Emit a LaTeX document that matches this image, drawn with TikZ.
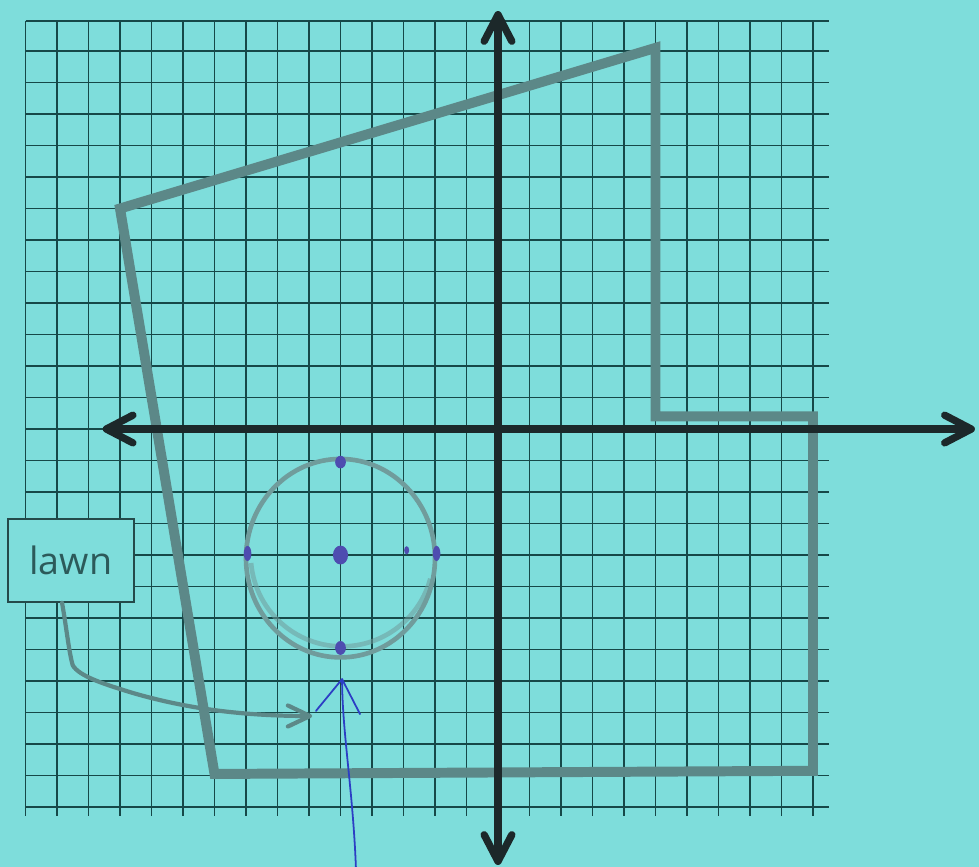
\documentclass[tikz,border=0pt]{standalone}
\usepackage{fontspec}
\setsansfont{Open Sans}
\usetikzlibrary{arrows.meta,calc}
\definecolor{paper}{RGB}{126,221,219}
\definecolor{gridc}{RGB}{22,72,72}
\definecolor{axisc}{RGB}{28,40,42}
\definecolor{polyc}{RGB}{92,136,136}
\definecolor{circc}{RGB}{112,156,156}
\definecolor{boxc}{RGB}{36,74,74}
\definecolor{textc}{RGB}{44,90,90}
\definecolor{penblue}{RGB}{44,62,196}
\definecolor{dotblue}{RGB}{78,76,176}
\begin{document}
\begin{tikzpicture}[x=0.5cm,y=0.5cm,
  gridline/.style={draw=gridc, line width=0.85pt},
  plotline/.style={draw=polyc, line width=4.5pt, line join=miter},
  axisline/.style={draw=axisc, line width=3.3pt,
    {Straight Barb[length=12pt,width=12.5pt,line cap=round,line join=round]}-{Straight Barb[length=12pt,width=12.5pt,line cap=round,line join=round]}},
  ringline/.style={draw=circc, line width=2.1pt},
  labelbox/.style={draw=boxc, fill=paper, line width=0.9pt, minimum width=2cm, minimum height=1.315cm,
    inner sep=0pt, font=\sffamily\fontsize{17}{20}\selectfont, text=textc},
  lawnarrow/.style={draw=polyc, line width=1.9pt, line cap=round,
    -{Straight Barb[length=10pt,width=9.5pt,line cap=round,line join=round]}},
  penline/.style={draw=penblue, line width=0.8pt, line cap=round, line join=round},
  pendot/.style={fill=dotblue}
]
% paper and frame
\fill[paper] (-15.81,-13.90) rectangle (15.27,13.62);
\useasboundingbox (-15.81,-13.90) rectangle (15.27,13.62);
% grid
\foreach \x in {-15,...,10} \draw[gridline] (\x,12.95) -- (\x,-12.3);
\foreach \y in {-12,...,12} \draw[gridline] (-15,\y) -- (10.5,\y);
\draw[gridline] (-15,12.95) -- (10.5,12.95);
% region outline
\coordinate (pA) at (-12,7);
\coordinate (pB) at (5,12.1);
\coordinate (pC) at (5,0.4);
\coordinate (pD) at (10,0.4);
\coordinate (pE) at (10,-10.85);
\coordinate (pF) at (-9,-10.95);
\draw[plotline] (pA) -- (pB) -- (pC) -- (pD) -- (pE) -- (pF) -- cycle;
% circle
\coordinate (cc) at (-5,-4.1);
\draw[ringline] (cc) ellipse [x radius=3.0, y radius=3.15];
\draw[ringline, opacity=0.55] (-4.95,-4.0) ++(185:2.9) arc[start angle=185, end angle=345, radius=2.9];
% dots
\fill[pendot] (-5,-4) ellipse [x radius=0.24, y radius=0.3];
\fill[pendot] (-5,-1.05) ellipse [x radius=0.17, y radius=0.2];
\fill[pendot] (-5,-6.95) ellipse [x radius=0.17, y radius=0.22];
\fill[pendot] (-7.95,-3.95) ellipse [x radius=0.12, y radius=0.24];
\fill[pendot] (-1.95,-3.95) ellipse [x radius=0.12, y radius=0.24];
\fill[pendot] (-2.9,-3.85) ellipse [x radius=0.08, y radius=0.13];
% axes
\coordinate (xl) at (-12.55,0);
\coordinate (xr) at (15.14,0);
\coordinate (yt) at (0,13.27);
\coordinate (yb) at (0,-13.84);
\draw[axisline] (xl) -- (xr);
\draw[axisline] (yb) -- (yt);
% lawn label
\node[labelbox] (lawn) at (-13.56,-4.17) {lawn};
\coordinate (lawnstart) at ($(lawn.south)+(-0.28,0)$);
\coordinate (lawntip) at (-5.9,-9.11);
\draw[lawnarrow] (lawnstart) .. controls (-13.7,-6.3) and (-13.62,-7.1) .. (-13.5,-7.5)
  .. controls (-13.3,-7.85) and (-12.5,-8.1) .. (-11.59,-8.38)
  .. controls (-9.8,-8.9) and (-8,-9.11) .. (lawntip);
% blue pen arrow
\coordinate (bstart) at (-4.51,-13.95);
\coordinate (btip) at (-4.95,-7.94);
\coordinate (barmL) at (-5.78,-8.95);
\coordinate (barmR) at (-4.38,-9.05);
\draw[penline] (bstart) .. controls (-4.6,-11.5) and (-4.95,-9.6) .. (btip);
\draw[penline] (barmL) -- (btip) -- (barmR);
\end{tikzpicture}
\end{document}
